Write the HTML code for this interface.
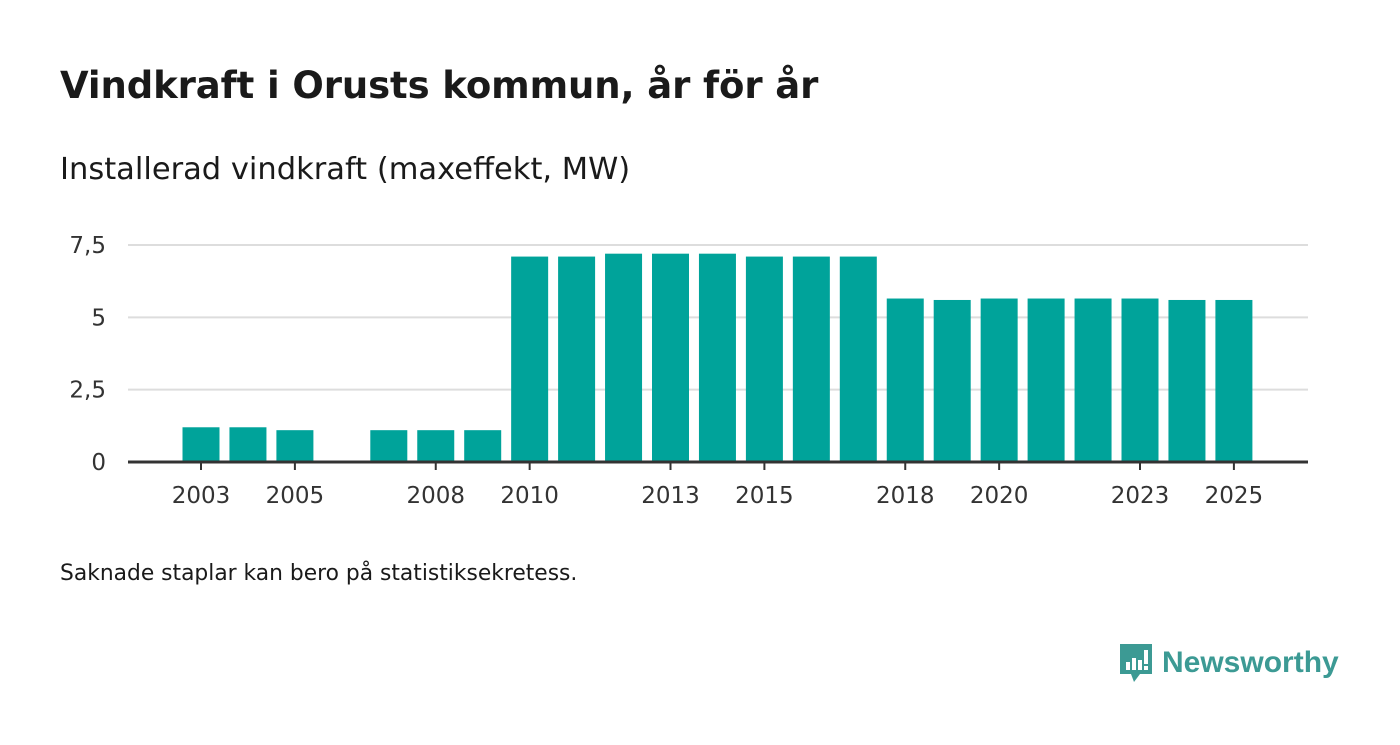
<!DOCTYPE html>
<html><head><meta charset="utf-8"><style>
body{margin:0;background:#fff;width:1400px;height:745px;overflow:hidden;font-family:"DejaVu Sans","Liberation Sans",sans-serif;color:#1a1a1a}
#title{position:absolute;left:60px;top:64px;font-size:37px;font-weight:bold;margin:0;letter-spacing:-0.1px}
#sub{position:absolute;left:60px;top:152px;font-size:30.5px}
#note{position:absolute;left:60px;top:561px;font-size:21.8px}
#logo{position:absolute;left:1118px;top:642px;display:flex;align-items:center}
#logo span{color:#3c9a94;font-size:30px;font-weight:bold;margin-left:8px;font-family:"Liberation Sans",sans-serif}
</style></head><body>
<h1 id="title">Vindkraft i Orusts kommun, år för år</h1>
<div id="sub">Installerad vindkraft (maxeffekt, MW)</div>
<svg id="chart" width="1400" height="745" style="position:absolute;left:0;top:0"></svg>
<div id="note">Saknade staplar kan bero på statistiksekretess.</div>
<div id="logo">
<svg width="36" height="42" viewBox="0 0 36 42"><path d="M2 2h32v30H22l-6 8-3-8H2z" fill="#3c9a94"/><rect x="8" y="20" width="4" height="8" fill="#fff"/><rect x="14" y="16" width="4" height="12" fill="#fff"/><rect x="20" y="18" width="4" height="10" fill="#fff"/><rect x="26" y="8" width="4" height="14" fill="#fff"/><rect x="26" y="24" width="4" height="4" fill="#fff"/></svg>
<span>Newsworthy</span></div>
<script>
const years=[2003,2004,2005,2006,2007,2008,2009,2010,2011,2012,2013,2014,2015,2016,2017,2018,2019,2020,2021,2022,2023,2024,2025];
const values=[1.2,1.2,1.1,null,1.1,1.1,1.1,7.1,7.1,7.2,7.2,7.2,7.1,7.1,7.1,5.65,5.6,5.65,5.65,5.65,5.65,5.6,5.6];
const yTicks=[0,2.5,5,7.5];
const yTickLabels=["0","2,5","5","7,5"];
const xTicks=[2003,2005,2008,2010,2013,2015,2018,2020,2023,2025];
const NS="http://www.w3.org/2000/svg",svg=document.getElementById('chart');
const x=y=>201+(y-2003)*46.95, yv=v=>462-v*(217/7.5);
function mk(t,a){const e=document.createElementNS(NS,t);for(const k in a)e.setAttribute(k,a[k]);svg.appendChild(e);return e;}
const F='DejaVu Sans, Liberation Sans, sans-serif';
yTicks.forEach((t,i)=>{
 if(t>0){const g=mk('line',{x1:128,x2:1308,y1:yv(t),y2:yv(t),stroke:'#dddddd','stroke-width':2});
 
 }
 const l=mk('text',{x:106,y:yv(t)+8,'text-anchor':'end','font-size':23,fill:'#333','font-family':F});
 l.textContent=yTickLabels[i];
 
 
});
years.forEach((yr,i)=>{
 if(values[i]==null)return;
 const r=mk('rect',{x:x(yr)-18.5,y:yv(values[i]),width:37,height:462-yv(values[i]),fill:'#00a39a'});
 
 
});
const ax=mk('line',{x1:128,x2:1308,y1:462,y2:462,stroke:'#333','stroke-width':3});


xTicks.forEach(yr=>{
 const t=mk('line',{x1:x(yr),x2:x(yr),y1:462,y2:470,stroke:'#333','stroke-width':2});
 
 
 const l=mk('text',{x:x(yr),y:503,'text-anchor':'middle','font-size':23,fill:'#333','font-family':F});
 l.textContent=yr;
 
 
});
</script>
</body></html>
